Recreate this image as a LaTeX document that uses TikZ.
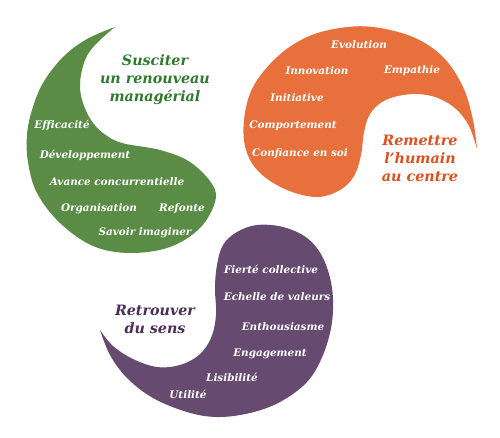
\documentclass[tikz,border=0pt]{standalone}
\usepackage{fontspec}
\setmainfont{DejaVu Serif}
\definecolor{leafgreen}{HTML}{5A8C46}
\definecolor{leafdark}{HTML}{2E7A2E}
\definecolor{sunorange}{HTML}{E8703C}
\definecolor{sunred}{HTML}{E04E1C}
\definecolor{plum}{HTML}{664A70}
\definecolor{plumdark}{HTML}{4A2E58}

\begin{document}
\begin{tikzpicture}[x=1pt, y=-1pt,
  word/.style={font=\fontsize{10.4}{12}\selectfont\bfseries\itshape, text=white, inner sep=0pt},
  head/.style={font=\fontsize{14.3}{18}\selectfont\bfseries\itshape, align=center, inner sep=0pt},
]
\useasboundingbox (0,0) rectangle (500,437);

% green comma, top left
\fill[leafgreen] plot[smooth, tension=0.6] coordinates {
  (115,27) (87,39) (63,57) (43,83) (32,110) (27,135) (28,162) (37,193) (60,223)
  (93,246) (130,253) (170,247) (200,228) (215,202) (212,184) (190,162)
  (160,150) (122,143) (103,133) (91,120) (83,103) (80,87) (82,70) (88,54)
  (100,40) (115,27)} -- cycle;

% orange comma, top right
\fill[sunorange] plot[smooth, tension=0.6] coordinates {
  (477,149) (473,120) (463,87) (443,57) (413,37) (373,27) (340,28) (307,37)
  (277,57) (253,87) (244,120) (246,150) (260,173) (287,190) (317,197)
  (340,190) (354,176) (361,155) (364,132) (370,114) (382,102) (398,96)
  (418,94) (438,98) (456,109) (469,126) (477,149)} -- cycle;

% purple comma, bottom
\fill[plum] plot[smooth, tension=0.6] coordinates {
  (100,330) (110,355) (127,378) (153,398) (187,412) (217,417) (250,413)
  (280,402) (307,382) (323,355) (332,322) (332,288) (323,258) (307,238)
  (283,227) (257,225) (237,232) (223,245) (217,265) (215,288) (216,315)
  (211,338) (199,355) (180,365) (157,367) (133,359) (113,346) (100,330)} -- cycle;

% titles
\node[head, text=leafdark] (tmanag) at (155,80) {Susciter\\un renouveau\\managérial};
\node[head, text=sunred]   (thumain) at (420,158) {Remettre\\l’humain\\au centre};
\node[head, text=plumdark] (tsens) at (155,319) {Retrouver\\du sens};

% green words
\node[word] (wefficacite) at (62,125)  {Efficacité};
\node[word] (wdevel)      at (85,155)  {Développement};
\node[word] (wavance)     at (117,182) {Avance concurrentielle};
\node[word] (worga)       at (99,209)  {Organisation};
\node[word] (wrefonte)    at (182,209) {Refonte};
\node[word] (wsavoir)     at (145,233) {Savoir imaginer};

% orange words
\node[word] (wevol)    at (359,45)  {Evolution};
\node[word] (winnov)   at (317,71)  {Innovation};
\node[word] (wempat)   at (412,71)  {Empathie};
\node[word] (winit)    at (297,98)  {Initiative};
\node[word] (wcompo)   at (293,126) {Comportement};
\node[word] (wconf)    at (300,154) {Confiance en soi};

% purple words
\node[word] (wfierte)  at (271,269) {Fierté collective};
\node[word] (wechelle) at (277,297) {Echelle de valeurs};
\node[word] (wenthou)  at (283,327) {Enthousiasme};
\node[word] (wengag)   at (270,354) {Engagement};
\node[word] (wlisib)   at (232,377) {Lisibilité};
\node[word] (wutil)    at (188,394) {Utilité};
\end{tikzpicture}
\end{document}
